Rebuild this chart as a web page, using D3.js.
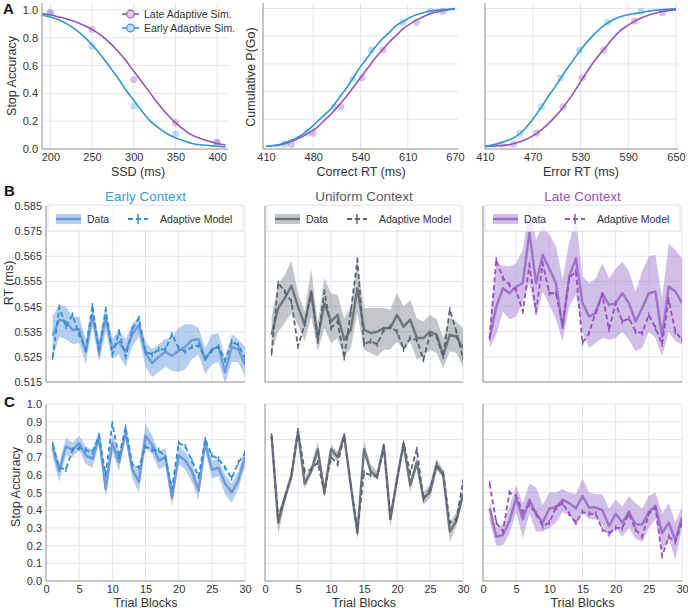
<!DOCTYPE html>
<html><head><meta charset="utf-8">
<script src="https://cdn.jsdelivr.net/npm/d3@7"></script>
<style>body{margin:0;background:#fff;} svg{display:block;font-family:"Liberation Sans",Arial,Helvetica,sans-serif;}</style>
</head><body><svg id="c" width="688" height="608"></svg>
<script>
// ---------- Panel A data ----------
const ssdVals = [200, 250, 300, 350, 400];
const lateSimAcc = [0.98, 0.86, 0.50, 0.19, 0.05];
const earlySimAcc = [0.98, 0.74, 0.31, 0.11, 0.04];
const ssdFitX = [190,200,210,220,230,240,250,260,270,280,290,300,310,320,330,340,350,360,370,380,390,400,410];
const lateFitAcc = [0.975,0.965,0.95,0.935,0.915,0.89,0.86,0.82,0.77,0.71,0.64,0.56,0.48,0.40,0.32,0.25,0.19,0.14,0.10,0.075,0.055,0.04,0.03];
const earlyFitAcc = [0.965,0.95,0.93,0.90,0.86,0.81,0.75,0.68,0.60,0.52,0.43,0.35,0.27,0.20,0.15,0.11,0.08,0.06,0.04,0.03,0.025,0.02,0.015];
const ssdTicks = [200, 250, 300, 350, 400];

const corFitX = [410,420,430,440,450,460,470,480,490,500,510,520,530,540,550,560,570,580,590,600,610,620,630,640,650,660,670];
const corEarlyFit = [0.005,0.01,0.02,0.04,0.06,0.09,0.13,0.18,0.23,0.28,0.35,0.42,0.50,0.58,0.65,0.72,0.78,0.83,0.88,0.91,0.94,0.96,0.975,0.985,0.99,0.995,1.0];
const corLateFit = [0.005,0.008,0.015,0.03,0.05,0.075,0.105,0.14,0.19,0.24,0.30,0.36,0.43,0.50,0.57,0.64,0.70,0.76,0.81,0.86,0.895,0.925,0.95,0.97,0.98,0.99,0.995];
const corEarlyPtX = [436, 467, 504, 529, 555, 598, 636];
const corEarlyPtY = [0.02, 0.10, 0.29, 0.49, 0.70, 0.90, 0.98];
const corLatePtX = [445, 475, 513, 542, 571, 617, 653];
const corLatePtY = [0.02, 0.10, 0.29, 0.50, 0.70, 0.90, 0.98];
const corTickVals = [410, 475, 540, 605, 670];
const corTickLabels = ["410", "480", "540", "610", "670"];

const errFitX = [410,420,430,440,450,460,470,480,490,500,510,520,530,540,550,560,570,580,590,600,610,620,630,640,650];
const errEarlyFit = [0.005,0.015,0.03,0.05,0.08,0.13,0.20,0.28,0.37,0.45,0.54,0.62,0.70,0.77,0.83,0.88,0.915,0.94,0.955,0.965,0.975,0.985,0.99,0.995,1.0];
const errLateFit = [0.003,0.006,0.01,0.015,0.03,0.05,0.08,0.12,0.17,0.23,0.30,0.38,0.47,0.56,0.64,0.71,0.78,0.84,0.88,0.915,0.94,0.96,0.975,0.985,0.99];
const errEarlyPtX = [431, 454, 481, 505, 529, 564, 606];
const errEarlyPtY = [0.02, 0.10, 0.29, 0.50, 0.70, 0.90, 0.98];
const errLatePtX = [446, 475, 508, 532, 559, 598, 633];
const errLatePtY = [0.02, 0.10, 0.29, 0.50, 0.70, 0.91, 0.97];
const errTickVals = [410, 470, 530, 590, 650];

const accTicksA = [0.0, 0.2, 0.4, 0.6, 0.8, 1.0];

// ---------- Panels B & C data ----------
const blocks = [1,2,3,4,5,6,7,8,9,10,11,12,13,14,15,16,17,18,19,20,21,22,23,24,25,26,27,28,29,30];
const blockTicks = [0, 5, 10, 15, 20, 25, 30];
const rtTicks = [0.515, 0.525, 0.535, 0.545, 0.555, 0.565, 0.575, 0.585];
const accTicksC = [0.0,0.1,0.2,0.3,0.4,0.5,0.6,0.7,0.8,0.9,1.0];

// B: RT
const earlyRT = [0.5334,0.5398,0.539,0.5358,0.536,0.527,0.5417,0.528,0.5404,0.5284,0.531,0.527,0.534,0.5375,0.5265,0.5225,0.525,0.527,0.5254,0.5274,0.529,0.5317,0.532,0.5237,0.528,0.529,0.519,0.529,0.528,0.5218];
const earlyRTLo = [0.524,0.533,0.532,0.530,0.5305,0.522,0.537,0.523,0.535,0.524,0.526,0.521,0.529,0.533,0.521,0.517,0.519,0.521,0.5195,0.519,0.520,0.524,0.526,0.518,0.522,0.523,0.5145,0.523,0.523,0.517];
const earlyRTHi = [0.5413,0.5455,0.545,0.541,0.541,0.532,0.545,0.5318,0.545,0.532,0.536,0.532,0.538,0.541,0.531,0.528,0.530,0.532,0.533,0.5365,0.538,0.538,0.5365,0.5285,0.534,0.5345,0.5245,0.534,0.532,0.529];
const earlyRTModel = [0.5248,0.5448,0.537,0.5417,0.534,0.528,0.5454,0.5265,0.544,0.5258,0.535,0.525,0.536,0.5404,0.527,0.526,0.528,0.528,0.534,0.5285,0.527,0.529,0.5295,0.5245,0.5275,0.529,0.5236,0.531,0.5297,0.5245];

const uniRT = [0.5338,0.5444,0.5483,0.5533,0.545,0.5378,0.551,0.5325,0.5464,0.539,0.5417,0.5318,0.5358,0.5523,0.5358,0.5345,0.535,0.5365,0.5365,0.5417,0.537,0.5398,0.5325,0.5325,0.535,0.5338,0.5258,0.5338,0.533,0.5285];
const uniRTLo = [0.5272,0.535,0.5385,0.5424,0.5378,0.5312,0.541,0.5272,0.5365,0.5305,0.5325,0.5252,0.5285,0.5424,0.5278,0.5265,0.5252,0.5278,0.5278,0.5312,0.5278,0.5312,0.5239,0.5252,0.5278,0.5265,0.5205,0.5272,0.5265,0.521];
const uniRTHi = [0.541,0.5543,0.5576,0.5632,0.5503,0.543,0.560,0.5385,0.5563,0.5503,0.5497,0.5404,0.545,0.5622,0.5444,0.5444,0.5444,0.5444,0.5437,0.5503,0.545,0.5477,0.5404,0.539,0.5417,0.540,0.5325,0.541,0.539,0.5365];
const uniRTModel = [0.5265,0.5543,0.551,0.547,0.5292,0.5378,0.5503,0.5312,0.551,0.5365,0.539,0.5245,0.543,0.5636,0.530,0.5312,0.530,0.5358,0.537,0.535,0.528,0.5325,0.5318,0.5239,0.5338,0.533,0.525,0.5437,0.535,0.5245];

const lateRT = [0.5325,0.545,0.5523,0.5503,0.553,0.5543,0.5745,0.5543,0.5656,0.560,0.5543,0.5365,0.557,0.5642,0.5464,0.541,0.5424,0.5503,0.5457,0.5464,0.5503,0.5464,0.539,0.5444,0.5503,0.551,0.533,0.553,0.551,0.5464];
const lateRTLo = [0.5285,0.5338,0.543,0.540,0.541,0.547,0.5543,0.541,0.551,0.5457,0.540,0.5312,0.545,0.5497,0.535,0.5285,0.5305,0.5325,0.5318,0.5325,0.535,0.5318,0.5272,0.5285,0.535,0.5325,0.5252,0.535,0.5312,0.530];
const lateRTHi = [0.538,0.5616,0.5613,0.561,0.5622,0.5675,0.5854,0.5715,0.5775,0.5735,0.569,0.5557,0.5708,0.580,0.557,0.5543,0.5563,0.5622,0.5563,0.560,0.5629,0.559,0.551,0.559,0.565,0.5655,0.5483,0.570,0.5675,0.5642];
const lateRTModel = [0.5325,0.5636,0.5563,0.5536,0.5516,0.543,0.5616,0.543,0.5622,0.5503,0.5503,0.5378,0.5563,0.559,0.5305,0.5345,0.543,0.5497,0.5358,0.5464,0.539,0.5404,0.535,0.5345,0.5417,0.5365,0.530,0.5477,0.535,0.5318];

// C: Stop accuracy
const earlyAcc = [0.75,0.62,0.76,0.74,0.78,0.71,0.69,0.81,0.52,0.78,0.67,0.84,0.63,0.56,0.82,0.77,0.68,0.70,0.47,0.71,0.68,0.62,0.51,0.78,0.63,0.64,0.55,0.50,0.57,0.70];
const earlyAccLo = [0.70,0.56,0.71,0.70,0.74,0.66,0.64,0.77,0.47,0.73,0.62,0.80,0.58,0.50,0.75,0.72,0.63,0.65,0.42,0.66,0.63,0.56,0.46,0.74,0.58,0.59,0.49,0.44,0.52,0.65];
const earlyAccHi = [0.80,0.67,0.81,0.78,0.82,0.76,0.74,0.85,0.58,0.83,0.72,0.87,0.68,0.62,0.89,0.82,0.73,0.75,0.53,0.76,0.73,0.67,0.56,0.82,0.68,0.69,0.60,0.55,0.62,0.75];
const earlyAccModel = [0.77,0.64,0.63,0.74,0.75,0.74,0.73,0.82,0.60,0.89,0.70,0.87,0.66,0.64,0.76,0.74,0.74,0.70,0.52,0.78,0.76,0.68,0.59,0.80,0.71,0.69,0.64,0.58,0.67,0.72];

const uniAcc = [0.82,0.33,0.47,0.59,0.845,0.55,0.62,0.745,0.50,0.745,0.70,0.82,0.54,0.27,0.745,0.62,0.59,0.765,0.35,0.575,0.775,0.54,0.67,0.47,0.50,0.65,0.60,0.28,0.34,0.49];
const uniAccLo = [0.80,0.26,0.44,0.57,0.82,0.52,0.60,0.70,0.47,0.72,0.67,0.80,0.51,0.23,0.71,0.60,0.57,0.73,0.30,0.55,0.75,0.50,0.64,0.43,0.47,0.63,0.58,0.22,0.31,0.46];
const uniAccHi = [0.84,0.38,0.50,0.62,0.87,0.58,0.65,0.79,0.53,0.77,0.73,0.84,0.57,0.31,0.79,0.66,0.62,0.79,0.38,0.60,0.80,0.57,0.70,0.50,0.55,0.69,0.63,0.33,0.39,0.53];
const uniAccModel = [0.82,0.36,0.47,0.60,0.85,0.62,0.63,0.67,0.50,0.70,0.66,0.82,0.54,0.29,0.61,0.60,0.59,0.76,0.36,0.57,0.78,0.61,0.745,0.46,0.52,0.66,0.61,0.33,0.35,0.56];

const lateAcc = [0.41,0.25,0.26,0.34,0.47,0.35,0.46,0.38,0.33,0.41,0.415,0.46,0.44,0.41,0.48,0.415,0.415,0.40,0.31,0.38,0.33,0.39,0.32,0.32,0.39,0.425,0.27,0.33,0.23,0.36];
const lateAccLo = [0.34,0.20,0.20,0.27,0.39,0.24,0.38,0.28,0.28,0.30,0.33,0.39,0.37,0.31,0.39,0.35,0.35,0.32,0.24,0.30,0.25,0.30,0.24,0.22,0.30,0.35,0.17,0.24,0.12,0.30];
const lateAccHi = [0.45,0.30,0.32,0.42,0.54,0.44,0.55,0.53,0.43,0.50,0.50,0.52,0.50,0.49,0.58,0.50,0.49,0.49,0.41,0.46,0.42,0.48,0.44,0.41,0.48,0.50,0.38,0.44,0.33,0.42];
const lateAccModel = [0.55,0.33,0.28,0.50,0.48,0.39,0.43,0.38,0.31,0.33,0.415,0.44,0.38,0.33,0.39,0.38,0.38,0.29,0.27,0.30,0.30,0.38,0.29,0.25,0.38,0.415,0.14,0.25,0.22,0.33];

// ---------- styles ----------
const C_EARLY = "#2f97d1", C_LATE = "#9b52b8";
const GRID = "#e4e4f0", SPINE = "#8c8c8c", TXT = "#333";
const ctx = {
  early: {solid: "#6a97d8", band: "#6f9fe0", dash: "#2e8fd3", title: "#3d9ad6"},
  uniform: {solid: "#6b7079", band: "#8a8d93", dash: "#5b6270", title: "#555a60"},
  late: {solid: "#9b6fc8", band: "#a57fcf", dash: "#9a4fc0", title: "#9552b8"}
};

const svg = d3.select("#c");
let clipId = 0;

function frame(o) {
  const g = svg.append("g");
  const xs = d3.scaleLinear(o.xDomain, [o.x0, o.x1]);
  const ys = d3.scaleLinear(o.yDomain, [o.y1, o.y0]);
  g.selectAll(".vg").data(o.xGrid).enter().append("line")
    .attr("x1", d => xs(d)).attr("x2", d => xs(d)).attr("y1", o.y0).attr("y2", o.y1)
    .attr("stroke", GRID).attr("stroke-width", 1);
  g.selectAll(".hg").data(o.yGrid).enter().append("line")
    .attr("y1", d => ys(d)).attr("y2", d => ys(d)).attr("x1", o.x0).attr("x2", o.x1)
    .attr("stroke", GRID).attr("stroke-width", 1);
  if (o.xTicks) {
    const ax = d3.axisBottom(xs).tickValues(o.xTicks).tickSize(0).tickPadding(4)
      .tickFormat((d, i) => o.xLabels ? o.xLabels[i] : d3.format("d")(d));
    const ga = g.append("g").attr("transform", `translate(0,${o.y1})`).call(ax);
    ga.select(".domain").remove();
    ga.selectAll("text").attr("font-size", 11).attr("fill", TXT).attr("font-family", null);
  }
  if (o.yTicks) {
    const ay = d3.axisLeft(ys).tickValues(o.yTicks).tickSize(0).tickPadding(4).tickFormat(o.yFormat);
    const ga = g.append("g").attr("transform", `translate(${o.x0},0)`).call(ay);
    ga.select(".domain").remove();
    ga.selectAll("text").attr("font-size", 11).attr("fill", TXT).attr("font-family", null);
  }
  const id = "clip" + (clipId++);
  svg.append("clipPath").attr("id", id).append("rect")
    .attr("x", o.x0).attr("y", o.y0).attr("width", o.x1 - o.x0).attr("height", o.y1 - o.y0);
  const plot = g.append("g").attr("clip-path", `url(#${id})`);
  const spines = g.append("g");
  spines.append("line").attr("x1", o.x0).attr("x2", o.x0).attr("y1", o.y0).attr("y2", o.y1).attr("stroke", SPINE);
  spines.append("line").attr("x1", o.x0).attr("x2", o.x1).attr("y1", o.y1).attr("y2", o.y1).attr("stroke", SPINE);
  return {g, xs, ys, plot, spines};
}

function text(x, y, s, opt = {}) {
  const t = svg.append("text").attr("x", x).attr("y", y).text(s)
    .attr("font-size", opt.size || 12.5).attr("fill", opt.fill || TXT)
    .attr("text-anchor", opt.anchor || "middle");
  if (opt.weight) t.attr("font-weight", opt.weight);
  if (opt.rotate) t.attr("transform", `rotate(-90,${x},${y})`);
  return t;
}

// ---------- Panel A ----------
function panelA(o, ptsE, ptsL, fitX, fitE, fitL) {
  const f = frame(o);
  const line = d3.line().x(d => f.xs(d[0])).y(d => f.ys(d[1])).curve(d3.curveMonotoneX);
  f.plot.selectAll(".pl").data(ptsL[0].map((x, i) => [x, ptsL[1][i]])).enter().append("circle")
    .attr("cx", d => f.xs(d[0])).attr("cy", d => f.ys(d[1])).attr("r", 3.6)
    .attr("fill", C_LATE).attr("opacity", 0.35);
  f.plot.selectAll(".pe").data(ptsE[0].map((x, i) => [x, ptsE[1][i]])).enter().append("circle")
    .attr("cx", d => f.xs(d[0])).attr("cy", d => f.ys(d[1])).attr("r", 3.6)
    .attr("fill", C_EARLY).attr("opacity", 0.3);
  f.plot.append("path").datum(fitX.map((x, i) => [x, fitL[i]])).attr("d", line)
    .attr("fill", "none").attr("stroke", C_LATE).attr("stroke-width", 1.6);
  f.plot.append("path").datum(fitX.map((x, i) => [x, fitE[i]])).attr("d", line)
    .attr("fill", "none").attr("stroke", C_EARLY).attr("stroke-width", 1.6);
  return f;
}

const aTop = 3, aBot = 149;
panelA({x0: 42, x1: 228, y0: aTop, y1: aBot, xDomain: [190, 413], yDomain: [0, 1.05],
  xGrid: ssdTicks, yGrid: [0.2, 0.4, 0.6, 0.8, 1.0], xTicks: ssdTicks, yTicks: accTicksA,
  yFormat: d3.format(".1f")},
  [ssdVals, earlySimAcc], [ssdVals, lateSimAcc], ssdFitX, earlyFitAcc, lateFitAcc);
panelA({x0: 263, x1: 458, y0: aTop, y1: aBot, xDomain: [405.9, 674.1], yDomain: [-0.015, 1.04],
  xGrid: corTickVals.slice(1, 4), yGrid: [0.2, 0.4, 0.6, 0.8, 1.0], xTicks: corTickVals, xLabels: corTickLabels},
  [corEarlyPtX, corEarlyPtY], [corLatePtX, corLatePtY], corFitX, corEarlyFit, corLateFit);
panelA({x0: 485, x1: 678, y0: aTop, y1: aBot, xDomain: [410, 652.5], yDomain: [-0.015, 1.04],
  xGrid: errTickVals.slice(1), yGrid: [0.2, 0.4, 0.6, 0.8, 1.0], xTicks: errTickVals},
  [errEarlyPtX, errEarlyPtY], [errLatePtX, errLatePtY], errFitX, errEarlyFit, errLateFit);

[["Late Adaptive Sim.", C_LATE, 14], ["Early Adaptive Sim.", C_EARLY, 28]].forEach(([s, c, y]) => {
  svg.append("line").attr("x1", 122).attr("x2", 139).attr("y1", y).attr("y2", y).attr("stroke", c).attr("stroke-width", 1.6);
  svg.append("circle").attr("cx", 130.5).attr("cy", y).attr("r", 3.8).attr("fill", "#fff").attr("stroke", c).attr("stroke-width", 1.2);
  svg.append("circle").attr("cx", 130.5).attr("cy", y).attr("r", 3.8).attr("fill", c).attr("opacity", 0.3);
  text(144, y + 4, s, {size: 10.5, anchor: "start"});
});

text(138, 176, "SSD (ms)");
text(361, 176, "Correct RT (ms)");
text(581, 176, "Error RT (ms)");
text(12, 76, "Stop Accuracy", {rotate: true}).attr("dy", "0.35em");
text(251, 77, "Cumulative P(Go)", {rotate: true}).attr("dy", "0.35em");
text(3, 14, "A", {size: 15, weight: "bold", anchor: "start", fill: "#111"});

// ---------- Panels B & C ----------
const cols = [
  {x0: 46, x1: 245, key: "early", name: "Early Context",
   rt: [earlyRT, earlyRTLo, earlyRTHi, earlyRTModel], acc: [earlyAcc, earlyAccLo, earlyAccHi, earlyAccModel]},
  {x0: 265, x1: 463, key: "uniform", name: "Uniform Context",
   rt: [uniRT, uniRTLo, uniRTHi, uniRTModel], acc: [uniAcc, uniAccLo, uniAccHi, uniAccModel]},
  {x0: 483, x1: 682, key: "late", name: "Late Context",
   rt: [lateRT, lateRTLo, lateRTHi, lateRTModel], acc: [lateAcc, lateAccLo, lateAccHi, lateAccModel]}
];

function series(f, arrs, st) {
  const [mean, lo, hi, model] = arrs;
  const area = d3.area().x((d, i) => f.xs(blocks[i])).y0((d, i) => f.ys(lo[i])).y1((d, i) => f.ys(hi[i]));
  f.plot.append("path").datum(mean).attr("d", area).attr("fill", st.band).attr("opacity", 0.5);
  const ln = d3.line().x((d, i) => f.xs(blocks[i])).y(d => f.ys(d));
  f.plot.append("path").datum(mean).attr("d", ln).attr("fill", "none")
    .attr("stroke", st.solid).attr("stroke-width", 2.4).attr("stroke-linejoin", "round").attr("opacity", 0.95);
  f.plot.append("path").datum(model).attr("d", ln).attr("fill", "none")
    .attr("stroke", st.dash).attr("stroke-width", 1.8).attr("stroke-dasharray", "5,3");
  f.plot.selectAll(".eb").data(model).enter().append("line")
    .attr("x1", (d, i) => f.xs(blocks[i])).attr("x2", (d, i) => f.xs(blocks[i]))
    .attr("y1", d => f.ys(d) - 2.5).attr("y2", d => f.ys(d) + 2.5)
    .attr("stroke", st.dash).attr("stroke-width", 1.4);
}

cols.forEach((c, k) => {
  const st = ctx[c.key];
  const fb = frame({x0: c.x0, x1: c.x1, y0: 206, y1: 382, xDomain: [0, 30], yDomain: [0.515, 0.585],
    xGrid: blockTicks.slice(1), yGrid: rtTicks.slice(1),
    yTicks: k === 0 ? rtTicks : null, yFormat: d3.format(".3f")});
  series(fb, c.rt, st);
  const lg = fb.g.append("g").attr("transform", `translate(${c.x0},206)`);
  lg.append("rect").attr("x", 2).attr("y", -1).attr("width", c.x1 - c.x0 - 4).attr("height", 26).attr("rx", 2)
    .attr("fill", "#fff").attr("fill-opacity", 0.75).attr("stroke", "#e2e2e2");
  lg.append("rect").attr("x", 10).attr("y", 8).attr("width", 25).attr("height", 10).attr("fill", st.band).attr("opacity", 0.5);
  lg.append("line").attr("x1", 10).attr("x2", 35).attr("y1", 13).attr("y2", 13).attr("stroke", st.solid).attr("stroke-width", 2.4);
  lg.append("text").attr("x", 41).attr("y", 17).text("Data").attr("font-size", 10.5).attr("fill", TXT);
  lg.append("line").attr("x1", 82).attr("x2", 102).attr("y1", 13).attr("y2", 13).attr("stroke", st.dash)
    .attr("stroke-width", 1.8).attr("stroke-dasharray", "5,3");
  lg.append("line").attr("x1", 92).attr("x2", 92).attr("y1", 8).attr("y2", 18).attr("stroke", st.dash).attr("stroke-width", 1.5);
  lg.append("text").attr("x", 114).attr("y", 17).text("Adaptive Model").attr("font-size", 10.5).attr("fill", TXT);

  text((c.x0 + c.x1) / 2, 201, c.name, {size: 13.5, fill: st.title});

  const fc = frame({x0: c.x0, x1: c.x1, y0: 404, y1: 581, xDomain: [0, 30], yDomain: [0, 1],
    xGrid: blockTicks.slice(1), yGrid: accTicksC.slice(1), xTicks: blockTicks,
    yTicks: k === 0 ? accTicksC : null, yFormat: d3.format(".1f")});
  series(fc, c.acc, st);
  text((c.x0 + c.x1) / 2, 606.5, "Trial Blocks", {size: 12.5});
});

text(9, 283, "RT (ms)", {rotate: true}).attr("dy", "0.35em");
text(16, 487, "Stop Accuracy", {rotate: true}).attr("dy", "0.35em");
text(4, 196, "B", {size: 15, weight: "bold", anchor: "start", fill: "#111"});
text(4, 407, "C", {size: 15, weight: "bold", anchor: "start", fill: "#111"});
</script>
</body></html>
